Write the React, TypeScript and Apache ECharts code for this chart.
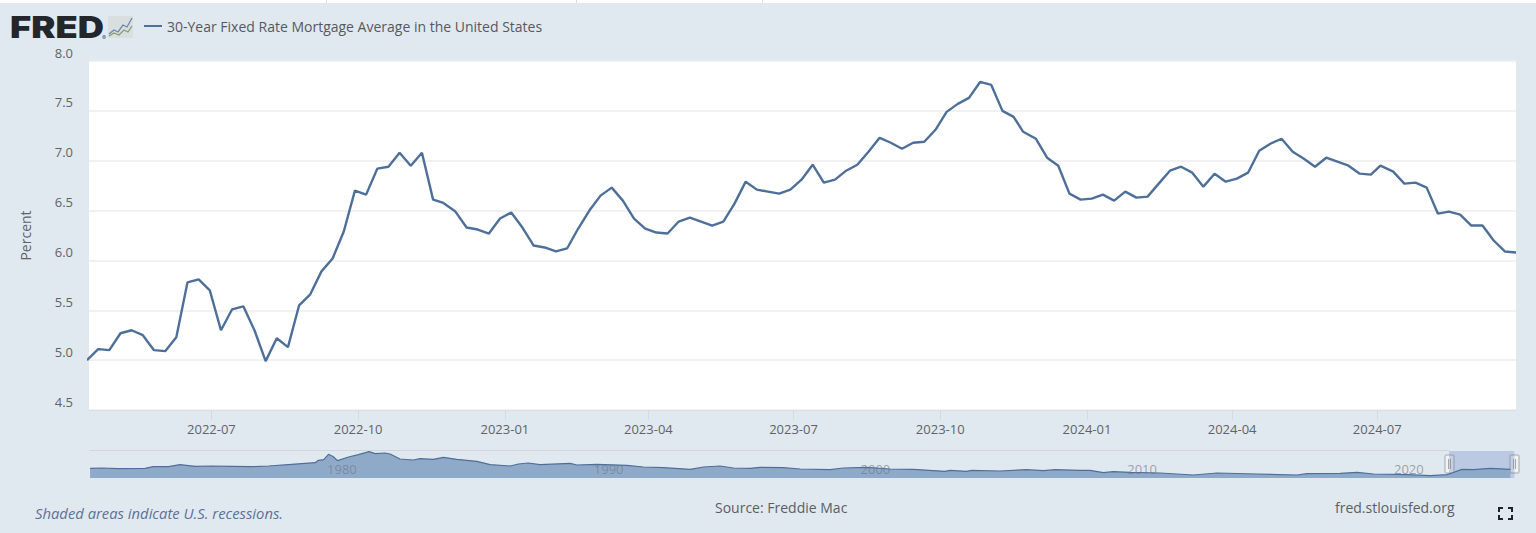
import React, { useEffect, useRef } from "react";
import * as echarts from "echarts";

const seriesName = "30-Year Fixed Rate Mortgage Average in the United States";
const dates = ["2022-04-14","2022-04-21","2022-04-28","2022-05-05","2022-05-12","2022-05-19","2022-05-26","2022-06-02","2022-06-09","2022-06-16","2022-06-23","2022-06-30","2022-07-07","2022-07-14","2022-07-21","2022-07-28","2022-08-04","2022-08-11","2022-08-18","2022-08-25","2022-09-01","2022-09-08","2022-09-15","2022-09-22","2022-09-29","2022-10-06","2022-10-13","2022-10-20","2022-10-27","2022-11-03","2022-11-10","2022-11-17","2022-11-23","2022-12-01","2022-12-08","2022-12-15","2022-12-22","2022-12-29","2023-01-05","2023-01-12","2023-01-19","2023-01-26","2023-02-02","2023-02-09","2023-02-16","2023-02-23","2023-03-02","2023-03-09","2023-03-16","2023-03-23","2023-03-30","2023-04-06","2023-04-13","2023-04-20","2023-04-27","2023-05-04","2023-05-11","2023-05-18","2023-05-25","2023-06-01","2023-06-08","2023-06-15","2023-06-22","2023-06-29","2023-07-06","2023-07-13","2023-07-20","2023-07-27","2023-08-03","2023-08-10","2023-08-17","2023-08-24","2023-08-31","2023-09-07","2023-09-14","2023-09-21","2023-09-28","2023-10-05","2023-10-12","2023-10-19","2023-10-26","2023-11-02","2023-11-09","2023-11-16","2023-11-22","2023-11-30","2023-12-07","2023-12-14","2023-12-21","2023-12-28","2024-01-04","2024-01-11","2024-01-18","2024-01-25","2024-02-01","2024-02-08","2024-02-15","2024-02-22","2024-02-29","2024-03-07","2024-03-14","2024-03-21","2024-03-28","2024-04-04","2024-04-11","2024-04-18","2024-04-25","2024-05-02","2024-05-09","2024-05-16","2024-05-23","2024-05-30","2024-06-06","2024-06-13","2024-06-20","2024-06-27","2024-07-03","2024-07-11","2024-07-18","2024-07-25","2024-08-01","2024-08-08","2024-08-15","2024-08-22","2024-08-29","2024-09-05","2024-09-12","2024-09-19","2024-09-26"];
const rates = [5.00,5.11,5.10,5.27,5.30,5.25,5.10,5.09,5.23,5.78,5.81,5.70,5.30,5.51,5.54,5.30,4.99,5.22,5.13,5.55,5.66,5.89,6.02,6.29,6.70,6.66,6.92,6.94,7.08,6.95,7.08,6.61,6.58,6.49,6.33,6.31,6.27,6.42,6.48,6.33,6.15,6.13,6.09,6.12,6.32,6.50,6.65,6.73,6.60,6.42,6.32,6.28,6.27,6.39,6.43,6.39,6.35,6.39,6.57,6.79,6.71,6.69,6.67,6.71,6.81,6.96,6.78,6.81,6.90,6.96,7.09,7.23,7.18,7.12,7.18,7.19,7.31,7.49,7.57,7.63,7.79,7.76,7.50,7.44,7.29,7.22,7.03,6.95,6.67,6.61,6.62,6.66,6.60,6.69,6.63,6.64,6.77,6.90,6.94,6.88,6.74,6.87,6.79,6.82,6.88,7.10,7.17,7.22,7.09,7.02,6.94,7.03,6.99,6.95,6.87,6.86,6.95,6.89,6.77,6.78,6.73,6.47,6.49,6.46,6.35,6.35,6.20,6.09,6.08];
const tickLabels = ["2022-07","2022-10","2023-01","2023-04","2023-07","2023-10","2024-01","2024-04","2024-07"];

const navYears = [1971.34,1971.78,1972.4,1973.4,1973.71,1974.28,1974.71,1975.28,1975.9,1976.65,1977.4,1978.03,1978.9,1979.78,1979.9,1980.1,1980.28,1980.45,1980.62,1981.03,1981.4,1981.8,1982.03,1982.4,1982.59,1982.96,1983.46,1983.71,1984.21,1984.59,1985.09,1985.84,1986.34,1987.09,1987.4,1987.77,1988.21,1989.34,1989.59,1990.34,1991.46,1992.09,1992.84,1993.84,1994.34,1994.96,1995.46,1996.09,1996.46,1997.33,1997.96,1999.08,1999.58,2000.46,2001.33,2002.2,2003.39,2003.58,2004.2,2004.39,2005.45,2006.45,2007.08,2007.52,2008.46,2008.83,2009.33,2009.7,2010.33,2011.46,2012.71,2013.59,2015.09,2016.59,2016.96,2018.21,2018.84,2019.46,2020.71,2021.59,2022.21,2022.4,2022.77,2023.21,2023.84,2024.59];
const navValues = [8.0,8.2,7.8,8.0,9.07,9.07,10.35,9.28,9.49,9.28,9.07,9.49,10.56,11.63,13.13,13.55,17.0,15.6,12.91,15.26,16.76,18.68,17.4,17.83,17.19,13.98,13.34,14.19,13.77,15.05,13.77,12.49,10.35,9.49,10.78,11.42,10.35,11.2,10.13,10.56,9.92,8.85,8.42,7.36,8.85,9.49,8.21,8.0,8.64,8.42,7.57,7.14,8.21,8.64,7.57,7.36,6.07,6.72,6.07,6.72,6.29,7.14,6.5,7.14,6.72,6.72,5.22,5.86,5.43,5.0,3.72,5.0,4.36,3.72,4.58,4.79,5.43,4.36,3.94,3.3,3.94,5.0,7.36,7.14,8.0,7.36];
const navLabels = [1980, 1990, 2000, 2010, 2020];
const navRange = [2022.29, 2024.74];

const FONT = '"Open Sans", "Noto Sans", sans-serif';
const BG = "#e1e9f0";
const LINE = "#4e6f99";
const TEXT = "#5f6368";

const handle = (x: number) => ({
  type: "group",
  children: [
    { type: "rect", shape: { x, y: 455, width: 9, height: 18, r: 1 }, style: { fill: "#f2f2f2", stroke: "#a8a8a8", lineWidth: 1 } },
    { type: "line", shape: { x1: x + 3.5, y1: 459, x2: x + 3.5, y2: 469 }, style: { stroke: "#a8a8a8", lineWidth: 1 } },
    { type: "line", shape: { x1: x + 5.5, y1: 459, x2: x + 5.5, y2: 469 }, style: { stroke: "#a8a8a8", lineWidth: 1 } },
  ],
});

const corner = (pts: number[][]) => ({ type: "polyline", shape: { points: pts }, style: { fill: "none", stroke: "#222", lineWidth: 2 } });

export default function App() {
  const ref = useRef<HTMLDivElement>(null);
  useEffect(() => {
    document.body.style.margin = "0";
    const chart = echarts.init(ref.current!, null, { renderer: "svg" });
    const tickValues = tickLabels.map((t) => Date.parse(t + "-01T00:00:00Z"));
    chart.setOption({
      animation: false,
      backgroundColor: BG,
      textStyle: { fontFamily: FONT },
      legend: {
        left: 139, top: 14, data: [seriesName], itemWidth: 18, itemHeight: 2, icon: "rect", selectedMode: false,
        textStyle: { color: "#55595e", fontSize: 14, fontFamily: FONT },
      },
      grid: [
        { left: 89, top: 61, width: 1427, height: 349, show: true, backgroundColor: "#fff", borderWidth: 0 },
        { left: 89, top: 451, width: 1427, height: 27, show: false },
      ],
      xAxis: [
        {
          type: "value", gridIndex: 0, min: Date.parse("2022-04-15T06:00:00Z"), max: Date.parse("2024-09-26T00:00:00Z"),
          axisLine: { show: true, lineStyle: { color: "#d9dfe5", width: 1 } },
          axisTick: { show: true, length: 10, lineStyle: { color: "#d6dbe0" }, customValues: tickValues },
          axisLabel: {
            color: TEXT, fontSize: 13, margin: 12, hideOverlap: false, fontFamily: FONT,
            customValues: tickValues,
            formatter: (v: number) => new Date(v).toISOString().slice(0, 7),
          },
          splitLine: { show: false },
        },
        {
          type: "value", gridIndex: 1, min: 1971.3, max: 2024.8, z: 5,
          axisLine: { show: false }, axisTick: { show: false }, splitLine: { show: false },
          axisLabel: {
            inside: true, margin: 3, align: "left", verticalAlign: "bottom", padding: [0, 0, 0, 6], color: "rgba(110,120,135,0.65)", fontSize: 13, fontFamily: FONT,
            customValues: navLabels, formatter: (v: number) => String(v),
          },
        },
      ],
      yAxis: [
        {
          type: "value", gridIndex: 0, min: 4.5, max: 8, interval: 0.5,
          name: "Percent", nameLocation: "middle", nameGap: 57, nameRotate: 90,
          nameTextStyle: { color: TEXT, fontSize: 14, fontFamily: FONT },
          axisLine: { show: false }, axisTick: { show: false },
          axisLabel: { color: TEXT, fontSize: 13, margin: 16, verticalAlign: "bottom", padding: [0, 0, 2, 0], fontFamily: FONT, formatter: (v: number) => v.toFixed(1) },
          splitLine: { show: true, lineStyle: { color: "#ececec", width: 1.5 } },
        },
        { type: "value", gridIndex: 1, min: 1.8, max: 19.1, show: false },
      ],
      series: [
        {
          name: seriesName, type: "line", xAxisIndex: 0, yAxisIndex: 0, showSymbol: false, z: 3,
          data: dates.map((d, i) => [Date.parse(d + "T00:00:00Z"), rates[i]]),
          lineStyle: { color: LINE, width: 2.4 }, itemStyle: { color: LINE },
        },
        {
          name: "Navigator", type: "line", xAxisIndex: 1, yAxisIndex: 1, showSymbol: false, z: 2,
          data: navYears.map((y, i) => [y, navValues[i]]),
          lineStyle: { color: LINE, width: 1.2 }, areaStyle: { color: "#8faac9", opacity: 1 },
          itemStyle: { color: LINE },
          markArea: { silent: true, itemStyle: { color: "rgba(90,120,190,0.28)" }, data: [[{ xAxis: navRange[0] }, { xAxis: navRange[1] }]] },
        },
      ],
      graphic: [
        { type: "rect", shape: { x: 0, y: 0, width: 1536, height: 3 }, style: { fill: "#fff" } },
        ...[326, 576, 762].map((x) => ({ type: "rect", shape: { x, y: 0, width: 1, height: 3 }, style: { fill: "#dddddd" } })),
        { type: "line", shape: { x1: 89, y1: 450.5, x2: 1449, y2: 450.5 }, style: { stroke: "#d3d6d8", lineWidth: 1 } },
        handle(1445), handle(1510),
        { type: "text", x: 10, y: 12, scaleX: 1.21, style: { text: "FRED", font: '900 30px Inter, "Liberation Sans", sans-serif', fill: "#23262b" } },
        { type: "text", x: 102, y: 34, style: { text: "®", font: "6px Inter, sans-serif", fill: "#55595e" } },
        { type: "rect", shape: { x: 108, y: 16, width: 25, height: 22 }, style: { fill: "#d9dfdf" } },
        { type: "polyline", shape: { points: [[109, 34], [114, 30], [118, 32], [123, 25], [127, 27], [132, 18]] }, style: { fill: "none", stroke: "#6a88ae", lineWidth: 1.3 } },
        { type: "polyline", shape: { points: [[109, 36], [114, 33], [119, 35], [124, 30], [128, 32], [132, 26]] }, style: { fill: "none", stroke: "#869d74", lineWidth: 1.3 } },
        { type: "text", x: 35, y: 505, style: { text: "Shaded areas indicate U.S. recessions.", font: `italic 14.8px ${FONT}`, fill: "#5b7199" } },
        { type: "text", x: 715, y: 500, style: { text: "Source: Freddie Mac", font: `14px ${FONT}`, fill: "#5a5e63" } },
        { type: "text", x: 1335, y: 500, style: { text: "fred.stlouisfed.org", font: `14px ${FONT}`, fill: "#5a5e63" } },
        corner([[1499, 512], [1499, 508], [1503, 508]]),
        corner([[1508, 508], [1512, 508], [1512, 512]]),
        corner([[1499, 515], [1499, 519], [1503, 519]]),
        corner([[1508, 519], [1512, 519], [1512, 515]]),
      ],
    });
    return () => chart.dispose();
  }, []);
  return <div ref={ref} style={{ width: 1536, height: 533 }} />;
}
